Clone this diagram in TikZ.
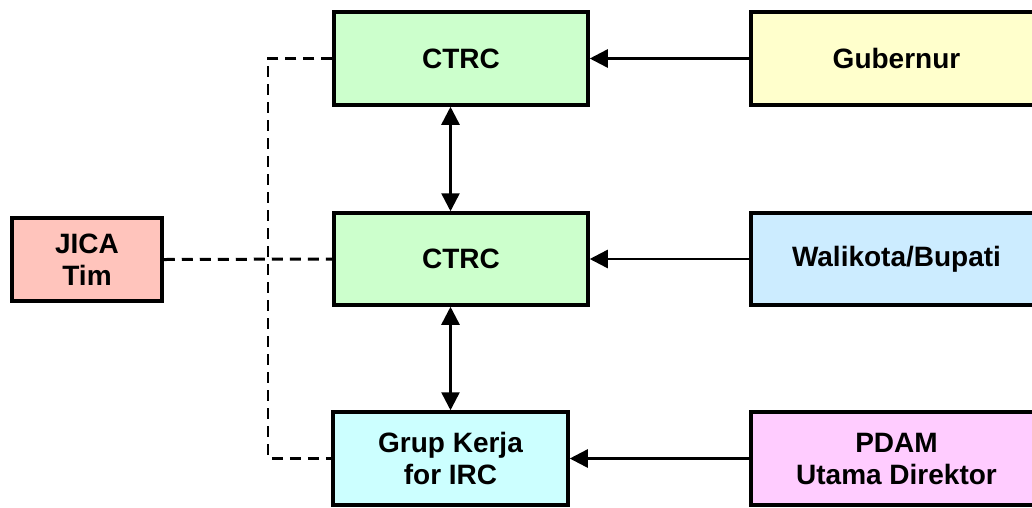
\documentclass[tikz,border=0pt]{standalone}
\usepackage{fontspec}
\setmainfont{Liberation Sans}
\usetikzlibrary{arrows.meta,calc}
\definecolor{ctrcgreen}{HTML}{CCFFCC}
\definecolor{govyellow}{HTML}{FFFFCC}
\definecolor{cityblue}{HTML}{CCECFF}
\definecolor{pdampink}{HTML}{FFCCFF}
\definecolor{grupcyan}{HTML}{CCFFFF}
\definecolor{jicapink}{HTML}{FFC4BC}
\tikzset{
  box/.style={draw=black, line width=3.5pt, align=center, inner sep=0pt,
    font=\fontsize{28}{32}\selectfont\bfseries},
  tip/.tip={Triangle[length=18pt,width=18pt]},
  link/.style={line width=2.5pt, -tip},
  twoway/.style={line width=2.5pt, tip-tip},
  liaison/.style={line width=3pt, dash pattern=on 11pt off 7pt},
}
\begin{document}
\begin{tikzpicture}[x=1pt,y=-1pt]
\useasboundingbox (0,0) rectangle (1032,507);

% central committees and working group
\node[box, fill=ctrcgreen, minimum width=254pt, minimum height=93pt] (ctrc1) at (461,58.5) {CTRC};
\node[box, fill=ctrcgreen, minimum width=254pt, minimum height=92pt] (ctrc2) at (461,259) {CTRC};
\node[box, fill=grupcyan, minimum width=235pt, minimum height=93pt] (grup) at (450.5,458.5) {Grup Kerja\\for IRC};

% authorities on the right
\node[box, fill=govyellow, minimum width=291pt, minimum height=93pt] (gub) at (896.5,58.5) {Gubernur};
\node[box, fill=cityblue, minimum width=291pt, minimum height=92pt] (wali) at (896.5,259) {Walikota/Bupati};
\node[box, fill=pdampink, minimum width=291pt, minimum height=93pt] (pdam) at (896.5,458.5) {PDAM\\Utama Direktor};

% JICA team
\node[box, top color=jicapink, middle color=white, bottom color=jicapink,
      minimum width=150pt, minimum height=83pt] (jica) at (87,259.5) {JICA\\Tim};

% reporting lines
\draw[link] (gub.west) -- (ctrc1.east);
\draw[link] (wali.west) -- (ctrc2.east);
\draw[link] (pdam.west) -- (grup.east);
\draw[twoway] (ctrc1.south -| grup.north) -- (ctrc2.north -| grup.north);
\draw[twoway] (ctrc2.south -| grup.north) -- (grup.north);

% liaison with the JICA team
\coordinate (bus) at (268,58.5);
\draw[liaison, line width=2.5pt] (ctrc1.west) -- (bus) |- (grup.west);
\draw[liaison] (jica.east) -- (ctrc2.west);
\end{tikzpicture}
\end{document}
